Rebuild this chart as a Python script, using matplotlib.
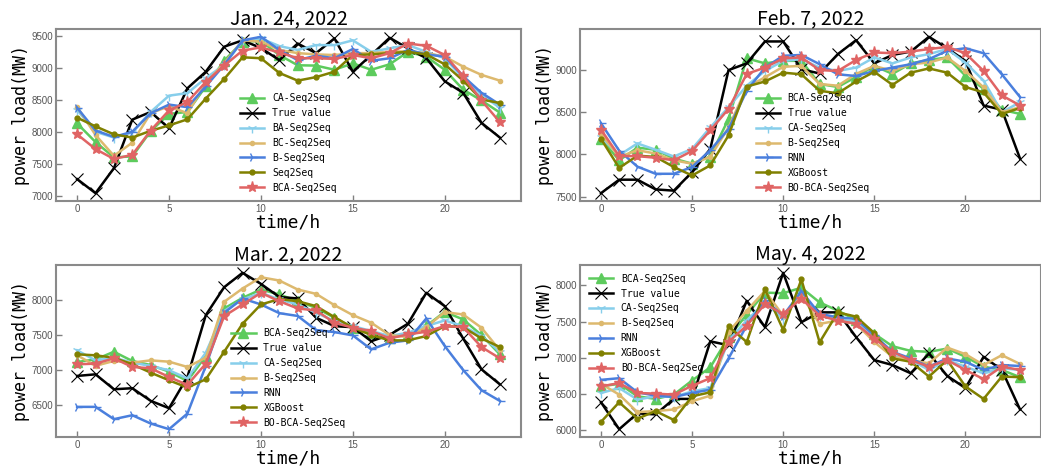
import matplotlib
matplotlib.use("Agg")
import matplotlib.pyplot as plt

hours = list(range(24))

# ---- Jan. 24, 2022 ----
true1 = [7270, 7050, 7440, 8200, 8320, 8064, 8690, 8950, 9340, 9440, 9320, 9130, 9390, 9240, 9470, 8950,
         9210, 9480, 9315, 9160, 8800, 8620, 8150, 7920]
ca1 = [8140, 7850, 7610, 7625, 8020, 8290, 8320, 8720, 9120, 9420, 9430, 9210, 9050, 9045, 8980, 9080,
       8980, 9065, 9260, 9185, 8980, 8670, 8500, 8310]
ba1 = [8350, 8010, 7920, 8000, 8320, 8575, 8615, 8850, 9055, 9430, 9470, 9350, 9290, 9365, 9365, 9440,
       9260, 9315, 9365, 9260, 9160, 8850, 8590, 8385]
bc1 = [8400, 7960, 7635, 7840, 8300, 8410, 8300, 8770, 9080, 9440, 9420, 9290, 9240, 9220, 9210, 9240,
       9240, 9260, 9270, 9240, 9185, 9030, 8900, 8810]
b1 = [8385, 8030, 7930, 8010, 8300, 8435, 8395, 8720, 9055, 9440, 9495, 9290, 9130, 9200, 9160, 9305,
      9120, 9160, 9290, 9220, 9185, 8880, 8620, 8435]
s1 = [8230, 8095, 7970, 7920, 8025, 8110, 8205, 8530, 8835, 9175, 9160, 8930, 8810, 8865, 8950, 9210,
      9220, 9240, 9260, 9220, 9065, 8810, 8515, 8460]
bca1 = [7970, 7740, 7585, 7650, 8030, 8345, 8475, 8790, 9045, 9280, 9330, 9250, 9160, 9160, 9150, 9210,
        9160, 9240, 9390, 9355, 9210, 8880, 8500, 8160]

# ---- Feb. 7, 2022 ----
true2 = [7540, 7700, 7700, 7585, 7570, 7790, 8065, 9000, 9080, 9340, 9340, 9010, 8960, 9190, 9355, 9080,
         9180, 9220, 9395, 9260, 9110, 8580, 8530, 7950]
bca2 = [8185, 7930, 8080, 8055, 7950, 7890, 7975, 8420, 9140, 9080, 9110, 9110, 8835, 8800, 8920, 9050,
        8955, 9080, 9120, 9150, 8935, 8780, 8530, 8480]
ca2 = [8205, 7990, 8130, 8055, 7975, 8065, 8320, 8560, 8815, 8990, 9110, 9130, 9030, 8990, 9030, 9150,
       9080, 9150, 9190, 9250, 9090, 8875, 8500, 8620]
b2 = [8245, 7970, 8050, 8010, 7930, 7890, 7970, 8320, 8795, 8915, 9040, 9050, 8835, 8815, 8955, 9050,
      8990, 9070, 9090, 9150, 8990, 8795, 8500, 8560]
rnn2 = [8370, 8045, 7855, 7770, 7770, 7850, 8050, 8300, 8755, 9030, 9170, 9180, 9070, 8950, 8930, 8990,
        9030, 9070, 9130, 9230, 9260, 9200, 8950, 8680]
xgb2 = [8185, 7840, 7985, 7970, 7850, 7750, 7870, 8225, 8805, 8865, 8970, 8950, 8755, 8725, 8865, 8980,
        8825, 8970, 9020, 8970, 8800, 8735, 8480, 8550]
bo2 = [8295, 7980, 7980, 7960, 7930, 8040, 8285, 8540, 8955, 9030, 9140, 9150, 9000, 8990, 9120, 9210,
       9200, 9220, 9250, 9275, 9200, 8990, 8700, 8580]

# ---- Mar. 2, 2022 ----
true3 = [6915, 6938, 6725, 6740, 6560, 6455, 6900, 7782, 8180, 8385, 8227, 8040, 8020, 7745, 7625, 7610,
         7410, 7500, 7660, 8100, 7910, 7450, 7010, 6795]
bca3 = [7114, 7150, 7260, 7128, 7070, 6976, 6843, 7200, 7877, 8028, 8147, 8076, 7980, 7886, 7744, 7602,
        7531, 7450, 7517, 7626, 7830, 7720, 7498, 7223]
ca3 = [7280, 7137, 7175, 7105, 7057, 6995, 6880, 7246, 7840, 8005, 8100, 8005, 7934, 7815, 7697, 7626,
       7555, 7484, 7531, 7626, 7706, 7626, 7484, 7260]
b3 = [7210, 7060, 7128, 7105, 7137, 7118, 7043, 7175, 7972, 8161, 8322, 8275, 8147, 8085, 7924, 7782,
      7673, 7498, 7469, 7611, 7825, 7791, 7602, 7280]
rnn3 = [6474, 6474, 6299, 6355, 6237, 6156, 6379, 7057, 7815, 8019, 7934, 7810, 7770, 7569, 7540, 7493,
        7294, 7389, 7422, 7735, 7342, 7000, 6711, 6559]
xgb3 = [7223, 7209, 7175, 7081, 6962, 6853, 6749, 6867, 7260, 7659, 7934, 8010, 7980, 7910, 7754, 7602,
        7498, 7422, 7422, 7484, 7626, 7611, 7450, 7327]
bo3 = [7081, 7090, 7166, 7043, 7024, 6900, 6787, 7090, 7768, 7934, 8100, 7980, 7877, 7848, 7673, 7602,
       7555, 7450, 7507, 7545, 7626, 7611, 7327, 7166]

# ---- May. 4, 2022 ----
true4 = [6386, 6014, 6232, 6218, 6432, 6432, 7227, 7173, 7786, 7423, 8173, 7491, 7627, 7627, 7286, 6968,
         6900, 6786, 7059, 6750, 6582, 7014, 6832, 6286]
bca4 = [6605, 6641, 6468, 6432, 6491, 6686, 6868, 7286, 7595, 7900, 7891, 7968, 7764, 7650, 7523, 7332,
        7159, 7095, 7082, 7127, 7014, 6877, 6832, 6732]
ca4 = [6514, 6582, 6423, 6468, 6459, 6536, 6582, 7241, 7514, 7764, 7536, 7900, 7582, 7536, 7491, 7286,
       7036, 6968, 6832, 6968, 6877, 6786, 6855, 6832]
b4 = [6641, 6491, 6250, 6264, 6286, 6400, 6477, 7355, 7650, 7923, 7582, 7864, 7468, 7514, 7468, 7218,
      7014, 6968, 6923, 7141, 7050, 6900, 7036, 6914]
rnn4 = [6695, 6718, 6523, 6477, 6459, 6514, 6559, 6991, 7445, 7795, 7582, 7920, 7605, 7559, 7536, 7309,
        7082, 6991, 6877, 6991, 6945, 6832, 6900, 6886]
xgb4 = [6114, 6386, 6159, 6264, 6141, 6468, 6523, 7432, 7218, 7945, 7386, 8082, 7214, 7627, 7568, 7341,
        6991, 6945, 6741, 6968, 6605, 6432, 6741, 6732]
bo4 = [6605, 6650, 6514, 6505, 6491, 6614, 6718, 7218, 7445, 7741, 7605, 7818, 7582, 7514, 7468, 7264,
       7082, 6968, 6877, 6968, 6832, 6705, 6877, 6832]

titles = ["Jan. 24, 2022", "Feb. 7, 2022", "Mar. 2, 2022", "May. 4, 2022"]
labels1 = ["CA-Seq2Seq", "True value", "BA-Seq2Seq", "BC-Seq2Seq", "B-Seq2Seq", "Seq2Seq", "BCA-Seq2Seq"]
labels2 = ["BCA-Seq2Seq", "True value", "CA-Seq2Seq", "B-Seq2Seq", "RNN", "XGBoost", "BO-BCA-Seq2Seq"]

GREEN = "#5DCB5D"
BLACK = "#000000"
LBLUE = "#87CEEB"
TAN = "#DDB96E"
BLUE = "#4A7FDD"
OLIVE = "#808000"
RED = "#E06464"

styles = [
    dict(color=GREEN, marker="^", markersize=7),
    dict(color=BLACK, marker="x", markersize=8, markeredgewidth=0.8),
    dict(color=LBLUE, marker="1", markersize=7, markeredgewidth=1.0),
    dict(color=TAN, marker=".", markersize=6),
    dict(color=BLUE, marker="4", markersize=7, markeredgewidth=1.0),
    dict(color=OLIVE, marker=".", markersize=7),
    dict(color=RED, marker="*", markersize=8),
]

panels = [
    (titles[0], [ca1, true1, ba1, bc1, b1, s1, bca1], labels1, dict(loc="center", bbox_to_anchor=(0.5, 0.337))),
    (titles[1], [bca2, true2, ca2, b2, rnn2, xgb2, bo2], labels2, dict(loc="center", bbox_to_anchor=(0.505, 0.337))),
    (titles[2], [bca3, true3, ca3, b3, rnn3, xgb3, bo3], labels2, dict(loc="center", bbox_to_anchor=(0.5, 0.343))),
    (titles[3], [bca4, true4, ca4, b4, rnn4, xgb4, bo4], labels2, dict(loc="upper left")),
]

W, H = 1041, 472
fig = plt.figure(figsize=(W / 100, H / 100), dpi=100)
fig.patch.set_facecolor("white")

boxes = [
    (56, 29, 465, 172),
    (580, 29, 461, 172),
    (56, 265, 465, 172),
    (580, 265, 461, 172),
]

for (title, series, labels, legkw), (l, t, w, h) in zip(panels, boxes):
    ax = fig.add_axes([l / W, (H - t - h) / H, w / W, h / H])
    for vals, lab, st in zip(series, labels, styles):
        ax.plot(hours, vals, label=lab, linewidth=1.8, **st)
    ax.set_title(title, fontsize=14, family=["Noto Sans CJK SC", "DejaVu Sans"], pad=3)
    ax.set_xlabel("time/h", fontsize=13, family=["DejaVu Sans Mono"], labelpad=0)
    ax.set_ylabel("power load(MW)", fontsize=12, family=["DejaVu Sans Mono"], labelpad=1)
    ax.set_xticks([0, 5, 10, 15, 20])
    ax.tick_params(direction="in", length=4, width=1, colors="#808080", labelcolor="#555555",
                   labelsize=7, pad=2)
    for lab in ax.get_xticklabels() + ax.get_yticklabels():
        lab.set_family(["Liberation Sans", "DejaVu Sans"])
    for sp in ax.spines.values():
        sp.set_color("#8a8a8a")
        sp.set_linewidth(1.5)
    leg = ax.legend(frameon=False, prop=dict(family="DejaVu Sans Mono", size=7),
                    handlelength=2.5, labelspacing=0.5, **legkw)

fig.savefig("out.png", dpi=100, facecolor="white")
